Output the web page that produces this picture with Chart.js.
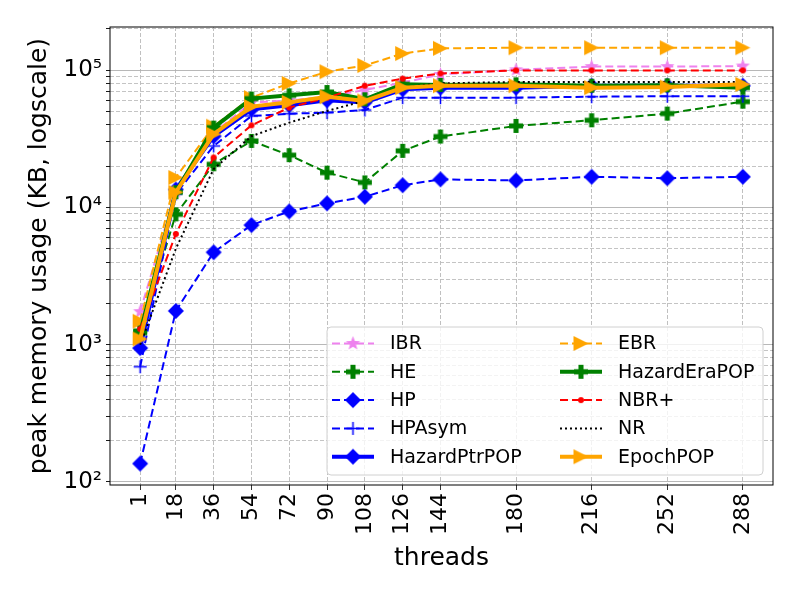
<!DOCTYPE html>
<html>
<head>
<meta charset="utf-8">
<script src="https://cdn.jsdelivr.net/npm/chart.js@4.4.1/dist/chart.umd.min.js"></script>
<style>
  body { margin: 0; background: #fff; }
</style>
</head>
<body>
<canvas id="myChart" width="800" height="600"></canvas>
<script>
// thread counts on the x axis
const threads = [1, 18, 36, 54, 72, 90, 108, 126, 144, 180, 216, 252, 288];

// peak memory usage in KB
const ibr          = [1740, 13000, 35000, 58000, 60000, 64000, 71600, 81000, 93000, 100500, 106000, 106000, 107000];
const he           = [1260, 8900, 20600, 30500, 24000, 17900, 15200, 25800, 32800, 39200, 43100, 48200, 58900];
const hp           = [136, 1760, 4710, 7430, 9350, 10700, 11950, 14500, 16000, 15700, 16700, 16300, 16700];
const hpAsym       = [690, 12500, 28000, 46300, 48100, 49000, 51200, 63000, 63000, 63000, 64000, 64500, 64500];
const hazardPtrPop = [944, 13500, 33000, 51800, 55400, 60200, 58200, 72400, 74500, 74500, 76900, 76900, 76900];
const ebr          = [1480, 16500, 39000, 63000, 80000, 97300, 108000, 132000, 144000, 145500, 145500, 145500, 145500];
const hazardEraPop = [1220, 12900, 38100, 62000, 65500, 69200, 61300, 78700, 78000, 78700, 76900, 77500, 74500];
const nbrPlus      = [1300, 6400, 23100, 39600, 53300, 63000, 76900, 86600, 94600, 99500, 99500, 99500, 99500];
const nr           = [1000, 5000, 19000, 33000, 41400, 50400, 59800, 75000, 80000, 82000, 82000, 82000, 82000];
const epochPop     = [1100, 12900, 34100, 54200, 58200, 64000, 59600, 74500, 76900, 76900, 74500, 75300, 78700];

// y tick values (log scale) and the labelled ones
const yTicks = [];
for (let e = 2; e <= 5; e++) {
    for (let k = 1; k <= 9; k++) {
        if (k * Math.pow(10, e) <= 200000) yTicks.push(k * Math.pow(10, e));
    }
}
const yLabels = { 100: '10²', 1000: '10³', 10000: '10⁴', 100000: '10⁵' };

Chart.defaults.font.family = 'DejaVu Sans';
Chart.defaults.color = '#000';

// draw matplotlib-like markers into small canvases
function makeMarker(kind, color, r) {
    const s = Math.ceil(r * 2 + 4);
    const c = document.createElement('canvas');
    c.width = c.height = s;
    const g = c.getContext('2d');
    const m = s / 2;
    g.fillStyle = color;
    g.strokeStyle = color;
    g.beginPath();
    if (kind === 'star') {
        for (let i = 0; i < 10; i++) {
            const rr = i % 2 ? r * 0.42 : r;
            const a = -Math.PI / 2 + i * Math.PI / 5;
            g.lineTo(m + rr * Math.cos(a), m + rr * Math.sin(a));
        }
        g.closePath();
        g.fill();
    } else if (kind === 'plus') {
        const t = r * 0.36;
        g.rect(m - t, m - r, 2 * t, 2 * r);
        g.rect(m - r, m - t, 2 * r, 2 * t);
        g.fill();
    } else if (kind === 'diamond') {
        g.moveTo(m, m - r);
        g.lineTo(m + r, m);
        g.lineTo(m, m + r);
        g.lineTo(m - r, m);
        g.closePath();
        g.fill();
    } else if (kind === 'cross') {
        g.lineWidth = 1.5;
        g.moveTo(m - r, m); g.lineTo(m + r, m);
        g.moveTo(m, m - r); g.lineTo(m, m + r);
        g.stroke();
    } else if (kind === 'dot') {
        g.arc(m, m, r, 0, Math.PI * 2);
        g.fill();
    } else if (kind === 'tri') {
        g.moveTo(m + r, m);
        g.lineTo(m - r, m - r);
        g.lineTo(m - r, m + r);
        g.closePath();
        g.fill();
    }
    return c;
}

const DASH = [8, 4];
const DOT = [2, 3];

// plotting order (last one drawn on top)
const series = [
    { label: 'IBR',          data: ibr,          color: '#ee82ee', width: 2, dash: DASH, marker: makeMarker('star', '#ee82ee', 7.5) },
    { label: 'HE',           data: he,           color: '#008000', width: 2, dash: DASH, marker: makeMarker('plus', '#008000', 7) },
    { label: 'HP',           data: hp,           color: '#0000ff', width: 2, dash: DASH, marker: makeMarker('diamond', '#0000ff', 8) },
    { label: 'HPAsym',       data: hpAsym,       color: '#0000ff', width: 2, dash: DASH, marker: makeMarker('cross', '#0000ff', 6.5) },
    { label: 'HazardPtrPOP', data: hazardPtrPop, color: '#0000ff', width: 4, dash: [],   marker: makeMarker('diamond', '#0000ff', 8) },
    { label: 'EBR',          data: ebr,          color: '#ffa500', width: 2, dash: DASH, marker: makeMarker('tri', '#ffa500', 7.5) },
    { label: 'HazardEraPOP', data: hazardEraPop, color: '#008000', width: 4, dash: [],   marker: makeMarker('plus', '#008000', 7) },
    { label: 'NBR+',         data: nbrPlus,      color: '#ff0000', width: 2, dash: DASH, marker: makeMarker('dot', '#ff0000', 3) },
    { label: 'NR',           data: nr,           color: '#000000', width: 2, dash: DOT,  marker: null },
    { label: 'EpochPOP',     data: epochPop,     color: '#ffa500', width: 4, dash: [],   marker: makeMarker('tri', '#ffa500', 7.5) }
];

const datasets = series.map((s, i) => ({
    label: s.label,
    data: threads.map((t, j) => ({ x: t, y: s.data[j] })),
    borderColor: s.color,
    backgroundColor: s.color,
    borderWidth: s.width,
    borderDash: s.dash,
    pointStyle: s.marker || 'circle',
    pointRadius: s.marker ? 8 : 0,
    tension: 0,
    order: series.length - i
}));

// black frame round the plot area
const framePlugin = {
    id: 'frame',
    afterDatasetsDraw(chart) {
        const { ctx, chartArea: a } = chart;
        ctx.save();
        ctx.strokeStyle = '#000';
        ctx.lineWidth = 1;
        ctx.setLineDash([]);
        ctx.strokeRect(a.left, a.top, a.right - a.left, a.bottom - a.top);
        ctx.restore();
    }
};

// two-column legend box in the lower right, filled column by column
const legendPlugin = {
    id: 'boxLegend',
    afterDraw(chart) {
        const ctx = chart.ctx;
        const x0 = 327, y0 = 327, w = 436, h = 148;
        ctx.save();
        ctx.setLineDash([]);
        ctx.fillStyle = 'rgba(255,255,255,0.8)';
        ctx.strokeStyle = '#d0d0d0';
        ctx.lineWidth = 1;
        ctx.beginPath();
        ctx.roundRect(x0, y0, w, h, 4);
        ctx.fill();
        ctx.stroke();
        ctx.font = '19px "DejaVu Sans"';
        ctx.textBaseline = 'middle';
        ctx.fillStyle = '#000';
        series.forEach((s, i) => {
            const col = Math.floor(i / 5), row = i % 5;
            const hx = col ? 560 : 332;
            const y = 343.5 + row * 28.3;
            ctx.strokeStyle = s.color;
            ctx.lineWidth = s.width;
            ctx.setLineDash(s.dash);
            ctx.beginPath();
            ctx.moveTo(hx, y);
            ctx.lineTo(hx + 42, y);
            ctx.stroke();
            if (s.marker) {
                ctx.drawImage(s.marker, hx + 21 - s.marker.width / 2, y - s.marker.height / 2);
            }
            ctx.fillStyle = '#000';
            ctx.fillText(s.label, col ? 618 : 390, y + 1);
        });
        ctx.restore();
    }
};

const ctx = document.getElementById('myChart').getContext('2d');
const myChart = new Chart(ctx, {
    type: 'line',
    data: { datasets: datasets },
    options: {
        responsive: false,
        animation: false,
        layout: { padding: { top: 27, right: 27, left: 0, bottom: 0 } },
        plugins: {
            legend: { display: false },
            tooltip: { enabled: false }
        },
        scales: {
            x: {
                type: 'linear',
                min: -13.35,
                max: 302.35,
                afterBuildTicks: scale => { scale.ticks = threads.map(v => ({ value: v })); },
                afterFit: scale => { scale.height = 115; },
                ticks: {
                    autoSkip: false,
                    minRotation: 90,
                    maxRotation: 90,
                    padding: 3,
                    font: { size: 22 },
                    callback: v => String(v)
                },
                grid: { color: '#b0b0b0', lineWidth: 0.8, tickColor: '#000', tickLength: 5 },
                border: { display: false, dash: [4, 2] },
                title: { display: true, text: 'threads', font: { size: 25 }, padding: { top: 0, bottom: 27 } }
            },
            y: {
                type: 'logarithmic',
                min: 95,
                max: 206000,
                afterBuildTicks: scale => { scale.ticks = yTicks.map(v => ({ value: v })); },
                afterFit: scale => { scale.width = 110; },
                ticks: {
                    autoSkip: false,
                    padding: 4,
                    font: { size: 23 },
                    callback: v => yLabels[v] || ''
                },
                grid: {
                    color: c => (yLabels[c.tick && c.tick.value] ? '#b0b0b0' : '#bdbdbd'),
                    lineWidth: 0.9,
                    tickColor: '#000',
                    tickLength: 4
                },
                border: {
                    display: false,
                    dash: c => (yLabels[c.tick && c.tick.value] ? [] : [4, 2])
                },
                title: { display: true, text: 'peak memory usage (KB, logscale)', font: { size: 25 }, padding: { top: 24, bottom: 0 } }
            }
        }
    },
    plugins: [framePlugin, legendPlugin]
});
</script>
</body>
</html>
